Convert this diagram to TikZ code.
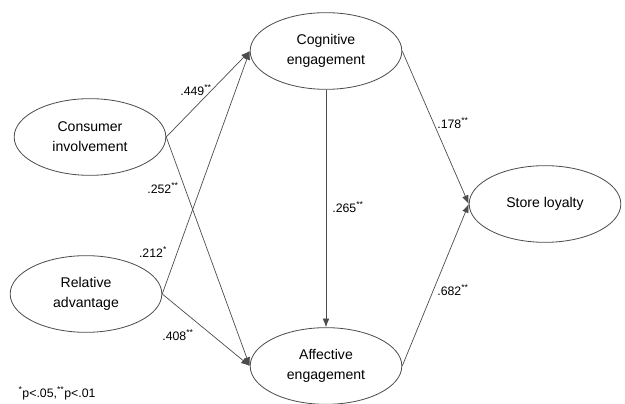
\documentclass[tikz,border=0pt]{standalone}
\usepackage{fontspec}
\setmainfont{Liberation Sans}
\usetikzlibrary{arrows.meta,shapes.geometric,positioning}

\tikzset{
  construct/.style={draw=black!70, line width=0.7pt, ellipse, inner sep=0pt,
    minimum width=4.55cm, minimum height=2.3cm, align=center,
    font=\fontsize{12}{17}\selectfont},
  path/.style={draw=black!70, line width=0.6pt, -{Latex[length=2.6mm,width=2mm]}},
  coef/.style={font=\fontsize{10.5}{12}\selectfont}
}

\begin{document}
\begin{tikzpicture}
\useasboundingbox (0,0) rectangle (18.75,12.12);
% constructs
\node[construct] (inv) at (2.70,8.01) {Consumer\\involvement};
\node[construct] (adv) at (2.58,3.30) {Relative\\advantage};
\node[construct] (cog) at (9.78,10.59) {Cognitive\\engagement};
\node[construct] (aff) at (9.78,1.14) {Affective\\engagement};
\node[construct] (loy) at (16.35,6.00) {Store loyalty};
% paths
\draw[path] (inv.east) -- (cog.west);
\draw[path] (inv.east) -- (aff.west);
\draw[path] (adv.east) -- (cog.west);
\draw[path] (adv.east) -- (aff.west);
\draw[path] (cog.south) -- (aff.north);
\draw[path] (cog.east) -- (loy.west);
\draw[path] (aff.east) -- (loy.west);
% coefficients
\node[coef] (c1) at (5.88,9.42) {.449\textsuperscript{**}};
\node[coef] (c2) at (4.89,6.48) {.252\textsuperscript{**}};
\node[coef] (c3) at (4.59,4.56) {.212\textsuperscript{*}};
\node[coef] (c4) at (5.34,2.07) {.408\textsuperscript{**}};
\node[coef] (c5) at (10.44,5.91) {.265\textsuperscript{**}};
\node[coef] (c6) at (13.59,8.43) {.178\textsuperscript{**}};
\node[coef] (c7) at (13.59,3.42) {.682\textsuperscript{**}};
\node[coef] (note) at (1.71,0.33) {\textsuperscript{*}p<.05,\textsuperscript{**}p<.01};
\end{tikzpicture}
\end{document}
